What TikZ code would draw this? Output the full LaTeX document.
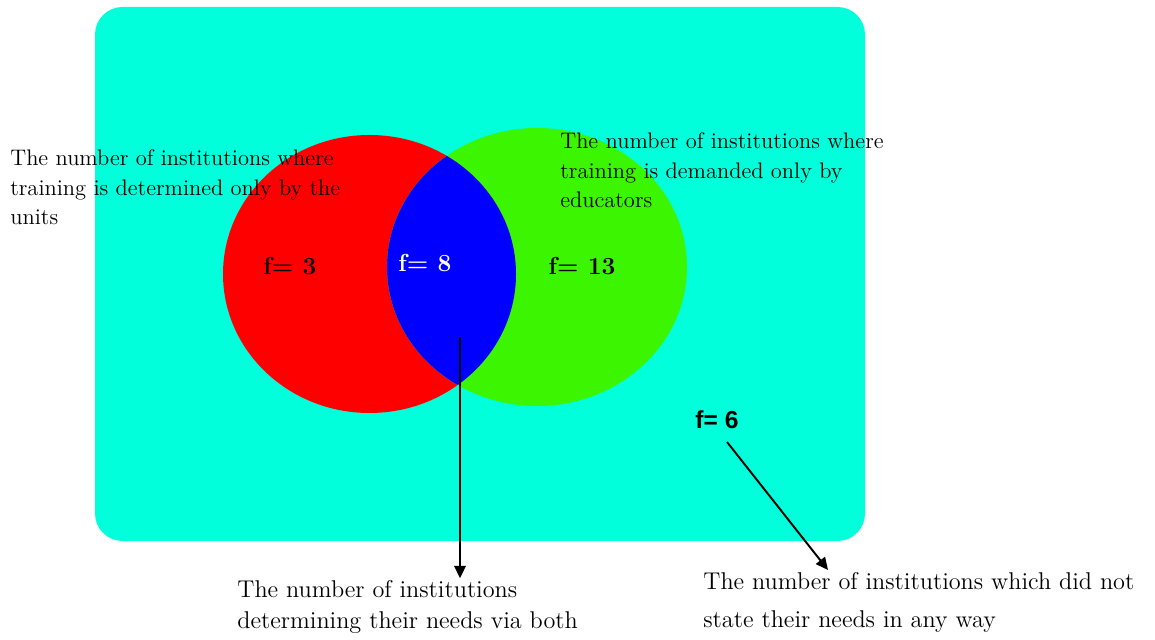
\documentclass[tikz,border=0pt]{standalone}
\usepackage{fontspec}
\newfontfamily\sansbold{Liberation Sans}
\usetikzlibrary{arrows.meta,positioning,calc}
\definecolor{bgcyan}{RGB}{0,255,218}
\definecolor{setred}{RGB}{255,0,0}
\definecolor{setgreen}{RGB}{60,245,0}
\definecolor{setblue}{RGB}{0,0,255}

\begin{document}
\begin{tikzpicture}[
    txt/.style={anchor=north west, inner sep=0pt, align=left, font=\fontsize{12.8}{17}\selectfont},
    val/.style={inner sep=1pt, font=\fontsize{14}{16}\selectfont\bfseries},
    arr/.style={-{Triangle[length=7pt,width=6.5pt]}, line width=1.1pt}
]
\useasboundingbox (0,0) rectangle (23.1,-12.8);
% universe and the two sets
\fill[bgcyan, rounded corners=0.55cm] (1.9,-0.14) rectangle (17.3,-10.82);
\fill[setred] (7.39,-5.48) ellipse [x radius=2.93, y radius=2.78];
\fill[setgreen] (10.74,-5.34) ellipse [x radius=3.0, y radius=2.78];
\begin{scope}
\clip (7.39,-5.48) ellipse [x radius=2.93, y radius=2.78];
\fill[setblue] (10.74,-5.34) ellipse [x radius=3.0, y radius=2.78];
\end{scope}

\node[val] (fthree) at (5.8,-5.32) {f= 3};
\node[val, text=white] (feight) at (8.5,-5.26) {f= 8};
\node[val] (fthirteen) at (11.64,-5.32) {f= 13};
\node[val, font=\sansbold\fontsize{14}{16}\selectfont\bfseries] (fsix) at (14.34,-8.4) {f= 6};

\node[txt] (units) at (0.2,-2.98) {The number of institutions where\\training is determined only by the\\units};
\node[txt] (educ) at (11.2,-2.64) {The number of institutions where\\training is demanded only by\\educators};
\node[txt, font=\fontsize{13.8}{17.5}\selectfont] (both) at (4.74,-11.6) {The number of institutions\\determining their needs via both};
\node[txt, font=\fontsize{13.8}{21.5}\selectfont] (none) at (14.06,-11.44) {The number of institutions which did not\\state their needs in any way};

\coordinate (bluetail) at (9.2,-6.74);
\coordinate (sixtail) at (14.54,-8.84);
\coordinate (sixtip) at (16.56,-11.4);
\draw[arr] (bluetail) -- ([yshift=1pt]bluetail |- both.north);
\draw[arr] (sixtail) -- (sixtip);
\end{tikzpicture}
\end{document}
